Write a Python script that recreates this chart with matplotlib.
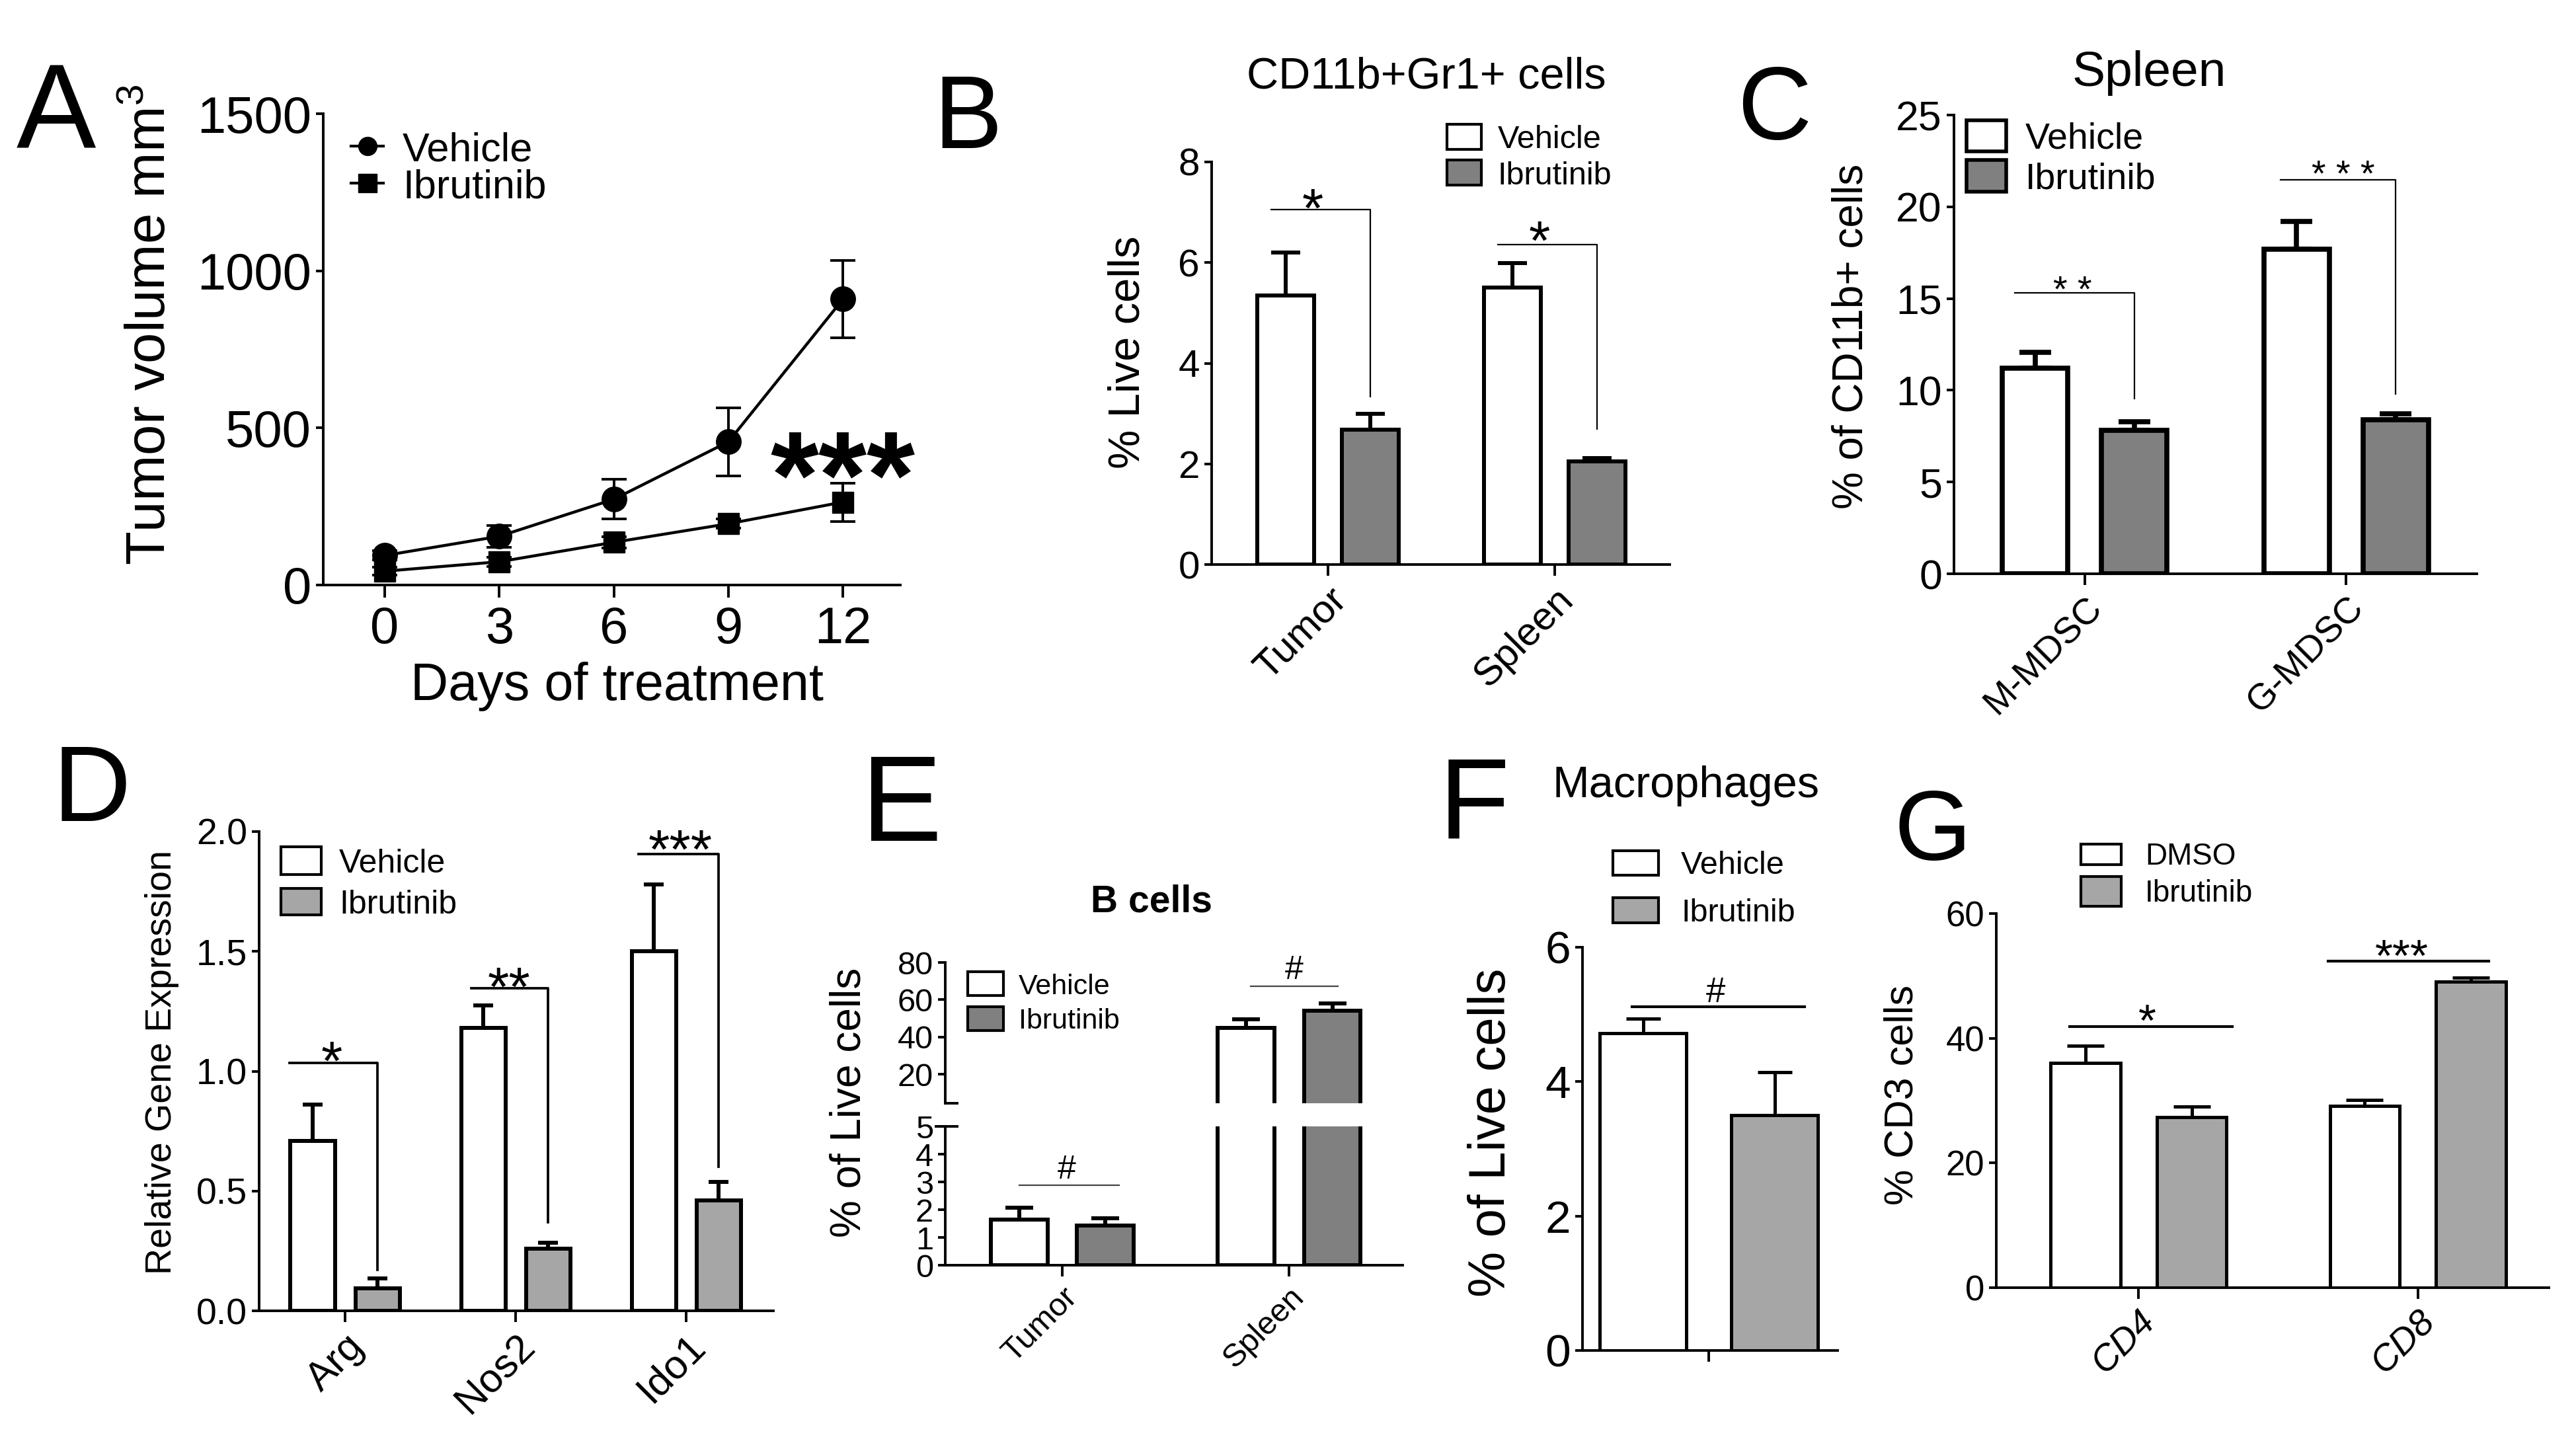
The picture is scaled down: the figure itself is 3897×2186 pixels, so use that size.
import numpy as np
import matplotlib.pyplot as plt
from matplotlib.patches import Rectangle
from matplotlib.lines import Line2D

plt.rcParams['font.family'] = ['Liberation Sans', 'DejaVu Sans']
plt.rcParams['mathtext.fontset'] = 'custom'
plt.rcParams['mathtext.rm'] = 'Liberation Sans'

# A - tumour volume over time
days = [0, 3, 6, 9, 12]
veh_volume = [94, 155, 273, 456, 910]
veh_volume_sem = [15, 35, 63, 108, 123]
ibr_volume = [44, 74, 136, 195, 264]
ibr_volume_sem = [12, 15, 18, 15, 61]

# B - CD11b+Gr1+ cells
b_groups = ['Tumor', 'Spleen']
b_veh = [5.35, 5.51]
b_veh_sem = [0.85, 0.48]
b_ibr = [2.68, 2.05]
b_ibr_sem = [0.32, 0.06]

# C - spleen MDSC
c_groups = ['M-MDSC', 'G-MDSC']
c_veh = [11.2, 17.7]
c_veh_sem = [0.88, 1.49]
c_ibr = [7.8, 8.4]
c_ibr_sem = [0.5, 0.3]

# D - gene expression
d_genes = ['Arg', 'Nos2', 'Ido1']
d_veh = [0.71, 1.18, 1.50]
d_veh_sem = [0.15, 0.095, 0.28]
d_ibr = [0.095, 0.26, 0.46]
d_ibr_sem = [0.04, 0.023, 0.077]

# E - B cells
e_groups = ['Tumor', 'Spleen']
e_veh = [1.64, 45.0]
e_veh_sem = [0.44, 4.4]
e_ibr = [1.44, 54.0]
e_ibr_sem = [0.25, 3.9]

# F - macrophages
f_veh = [4.72]
f_veh_sem = [0.22]
f_ibr = [3.50]
f_ibr_sem = [0.64]

# G - T cells
g_groups = ['CD4', 'CD8']
g_dmso = [36.0, 29.1]
g_dmso_sem = [2.8, 1.0]
g_ibr = [27.4, 49.1]
g_ibr_sem = [1.6, 0.6]

W, H = 3898, 2186
DARK = '#808080'
LIGHT = '#a6a6a6'
fig = plt.figure(figsize=(W / 100, H / 100), dpi=100)


def px_axes(l, t, r, b):
    return fig.add_axes([l / W, 1 - b / H, (r - l) / W, (b - t) / H])


def txt(x, y, s, **kw):
    return fig.text(x / W, 1 - y / H, s, **kw)


def style(ax, fs, lw=2.8, xlen=12, ylen=8):
    ax.patch.set_visible(False)
    for side in ['top', 'right']:
        ax.spines[side].set_visible(False)
    for side in ['left', 'bottom']:
        ax.spines[side].set_linewidth(lw)
    ax.tick_params(axis='y', length=ylen, width=lw, labelsize=fs, pad=5)
    ax.tick_params(axis='x', length=xlen, width=lw, labelsize=fs, pad=6)


def bars(ax, x, vals, sem, fc, width, lw, cap):
    ax.bar(x, vals, width, color=fc, edgecolor='black', linewidth=lw, zorder=3)
    ax.errorbar(x, vals, yerr=[np.zeros(len(vals)), sem], fmt='none', ecolor='black',
                elinewidth=lw, capsize=cap, capthick=lw, zorder=2)


def bracket(ax, x0, x1, y, drop=None, lw=1.6, color='black'):
    xs, ys = [x0, x1], [y, y]
    if drop is not None:
        xs.append(x1)
        ys.append(drop)
    ax.plot(xs, ys, color=color, lw=lw, clip_on=False, zorder=4)


def mark(ax, x, y, s, fs, lift, **kw):
    # lift = height of the glyph centre above the baseline, in em
    ax.annotate(s, (x, y), xytext=(0, -lift * fs), textcoords='offset points',
                ha='center', va='baseline', fontsize=fs, annotation_clip=False, **kw)


def legend_boxes(x0, bw, text_x, fs, rows, lw=3):
    for yc, bh, fc, label in rows:
        fig.add_artist(Rectangle((x0 / W, 1 - (yc + bh / 2) / H), bw / W, bh / H,
                                 transform=fig.transFigure, facecolor=fc,
                                 edgecolor='black', linewidth=lw))
        txt(text_x, yc + 0.5 * fs, label, fontsize=fs, va='baseline')


def letter(x, y, s, fs):
    txt(x, y, s, fontsize=fs, va='baseline')


def ylab(x, y, s, fs):
    txt(x, y, s, fontsize=fs, rotation=90, ha='center', va='center')


def rot_ticks(ax, pos, labels, fs, **kw):
    ax.set_xticks(pos)
    ax.set_xticklabels(labels, rotation=45, ha='right', rotation_mode='anchor',
                       fontsize=fs, **kw)


# ---------------- A ----------------
axA = px_axes(489, 172, 1362, 885)
for vals, sem, mk, ms in [(veh_volume, veh_volume_sem, 'o', 27),
                          (ibr_volume, ibr_volume_sem, 's', 23)]:
    eb = axA.errorbar(days, vals, yerr=sem, color='black', lw=3.2, marker=mk, ms=ms,
                      capsize=14, elinewidth=2.8, capthick=2.8, zorder=3)
    eb[0].set_clip_on(False)
    for a in list(eb[1]) + list(eb[2]):
        a.set_clip_on(False)
axA.set_xlim(-1.61, 13.5)
axA.set_ylim(0, 1500)
axA.set_xticks(days)
axA.set_yticks([0, 500, 1000, 1500])
style(axA, 56, xlen=14)
axA.tick_params(axis='x', pad=8)
mark(axA, 12, 446, '***', 135, 0.58, fontweight='bold')
for yc, mk, ms, lab in [(221, 'o', 20, 'Vehicle'), (277, 's', 20, 'Ibrutinib')]:
    fig.add_artist(Line2D([531 / W, 580 / W], [1 - yc / H] * 2, color='black', lw=3))
    fig.add_artist(Line2D([556 / W], [1 - yc / H], marker=mk, ms=ms, color='black'))
    txt(609, yc + 22, lab, fontsize=44, va='baseline')
ylab(228, 491, r'Tumor volume mm$^{\mathrm{3}}$', 60)
txt(933, 1059, 'Days of treatment', fontsize=57, ha='center', va='baseline')
letter(25, 225, 'A', 130)

# ---------------- B ----------------
axB = px_axes(1833, 245, 2526, 854)
xb = np.arange(len(b_groups))
bars(axB, xb - 0.187, b_veh, b_veh_sem, 'white', 0.25, 4.3, 15.5)
bars(axB, xb + 0.187, b_ibr, b_ibr_sem, DARK, 0.25, 4.3, 15.5)
axB.set_xlim(-0.513, 1.507)
axB.set_ylim(0, 8)
axB.set_yticks(range(0, 9, 2))
style(axB, 42)
rot_ticks(axB, xb, b_groups, 43)
for g, y, drop, s, ty in [(0, 7.05, 3.34, '*', 7.34), (1, 6.36, 2.69, '*', 6.70)]:
    bracket(axB, g - 0.25, g + 0.187, y, drop)
    mark(axB, g - 0.068, ty, s, 60, 0.58)
legend_boxes(2189, 52, 2266, 35, [(207, 38, 'white', 'Vehicle'), (261, 38, DARK, 'Ibrutinib')])
txt(2158, 133, 'CD11b+Gr1+ cells', fontsize=48, ha='center', va='baseline')
ylab(1707, 533, '% Live cells', 48)
letter(1412, 224, 'B', 112)

# ---------------- C ----------------
axC = px_axes(2956, 174, 3747, 868)
xc = np.arange(len(c_groups))
bars(axC, xc - 0.19, c_veh, c_veh_sem, 'white', 0.25, 5.5, 17)
bars(axC, xc + 0.19, c_ibr, c_ibr_sem, DARK, 0.25, 5.5, 17)
axC.set_xlim(-0.5, 1.5)
axC.set_ylim(0, 25)
axC.set_yticks(range(0, 26, 5))
style(axC, 45)
rot_ticks(axC, xc, c_groups, 40)
for g, x0, y, drop, s, tx, ty in [(0, -0.268, 15.3, 9.55, '* *', -0.046, 16.0),
                                  (1, -0.25, 21.46, 9.8, '* * *', -0.01, 22.3)]:
    bracket(axC, g + x0, g + 0.19, y, drop)
    mark(axC, g + tx, ty, s, 40, 0.58)
legend_boxes(2975, 60, 3064, 40, [(205, 47, 'white', 'Vehicle'), (266, 48, DARK, 'Ibrutinib')], lw=4)
txt(3251, 130, 'Spleen', fontsize=54, ha='center', va='baseline')
ylab(2801, 509, '% of CD11b+ cells', 46)
letter(2628, 210, 'C', 112)

# ---------------- D ----------------
axD = px_axes(392, 1258, 1170, 1983)
xd = np.arange(len(d_genes))
bars(axD, xd - 0.19, d_veh, d_veh_sem, 'white', 0.26, 4.3, 11)
bars(axD, xd + 0.19, d_ibr, d_ibr_sem, LIGHT, 0.26, 4.3, 11)
axD.set_xlim(-0.504, 2.51)
axD.set_ylim(0, 2)
axD.set_yticks([0, 0.5, 1, 1.5, 2])
axD.set_yticklabels(['0.0', '0.5', '1.0', '1.5', '2.0'])
style(axD, 40)
rot_ticks(axD, xd, d_genes, 44)
for g, x0, y, drop, s, tx, ty in [(0, -0.326, 1.035, 0.17, '*', -0.08, 1.098),
                                  (1, -0.26, 1.347, 0.369, '**', -0.04, 1.407),
                                  (2, -0.28, 1.905, 0.602, '***', -0.035, 1.98)]:
    bracket(axD, g + x0, g + 0.19, y, drop, lw=2.7)
    mark(axD, g + tx, ty, s, 60, 0.58)
legend_boxes(425, 61, 513, 36, [(1302, 42, 'white', 'Vehicle'), (1364, 40, LIGHT, 'Ibrutinib')])
ylab(245, 1607, 'Relative Gene Expression', 40)
letter(80, 1242, 'D', 118)

# ---------------- E (broken axis) ----------------
axEu = px_axes(1430, 1456, 2122, 1669)
axEl = px_axes(1430, 1704, 2122, 1914)
xe = np.arange(len(e_groups))
for ax in (axEu, axEl):
    bars(ax, xe - 0.19, e_veh, e_veh_sem, 'white', 0.25, 4.3, 15)
    bars(ax, xe + 0.19, e_ibr, e_ibr_sem, DARK, 0.25, 4.3, 15)
    ax.set_xlim(-0.516, 1.50)
    style(ax, 35)
axEu.set_ylim(4.4, 80)
axEu.set_yticks([20, 40, 60, 80])
axEu.spines['bottom'].set_visible(False)
axEu.set_xticks([])
axEl.set_ylim(0, 5)
axEl.set_yticks(range(6))
rot_ticks(axEl, xe, e_groups, 35)
axEu.plot([0, 0.026], [0, 0], transform=axEu.transAxes, color='black', lw=2.8, clip_on=False)
axEl.plot([-0.02, 0.026], [1, 1], transform=axEl.transAxes, color='black', lw=2.8, clip_on=False)
bracket(axEl, -0.19, 0.25, 2.87, None, lw=1.6, color='#444444')
mark(axEl, 0.02, 3.53, '#', 36, 0.35)
bracket(axEu, 1 - 0.17, 1 + 0.215, 67.2, None, lw=1.6, color='#444444')
mark(axEu, 1.02, 77.5, '#', 36, 0.35)
legend_boxes(1464, 54, 1541, 31, [(1488, 36, 'white', 'Vehicle'), (1541, 36, DARK, 'Ibrutinib')])
txt(1742, 1380, 'B cells', fontsize=41, fontweight='bold', ha='center', va='baseline')
ylab(1285, 1668, '% of Live cells', 46)
letter(1303, 1272, 'E', 132)

# ---------------- F ----------------
axF = px_axes(2394, 1433, 2780, 2043)
bars(axF, [-0.195], f_veh, f_veh_sem, 'white', 0.257, 3.6, 19)
bars(axF, [0.195], f_ibr, f_ibr_sem, LIGHT, 0.257, 3.6, 19)
axF.set_xlim(-0.375, 0.382)
axF.set_ylim(0, 6)
axF.set_yticks([0, 2, 4, 6])
style(axF, 50)
axF.set_xticks([0])
axF.set_xticklabels([''])
bracket(axF, -0.227, 0.284, 5.11, None, lw=3)
mark(axF, 0.02, 5.37, '#', 38, 0.35)
legend_boxes(2440, 69, 2543, 35, [(1305, 37, 'white', 'Vehicle'), (1377, 38, LIGHT, 'Ibrutinib')])
txt(2348, 1206, 'Macrophages', fontsize=48, va='baseline')
ylab(2256, 1713, '% of Live cells', 56)
letter(2177, 1269, 'F', 126)

# ---------------- G ----------------
axG = px_axes(3020, 1382, 3856, 1948)
xg = np.arange(len(g_groups))
bars(axG, xg - 0.19, g_dmso, g_dmso_sem, 'white', 0.25, 3.6, 20)
bars(axG, xg + 0.19, g_ibr, g_ibr_sem, LIGHT, 0.25, 3.6, 20)
axG.set_xlim(-0.51, 1.47)
axG.set_ylim(0, 60)
axG.set_yticks([0, 20, 40, 60])
style(axG, 38)
rot_ticks(axG, xg, g_groups, 40, fontstyle='italic')
bracket(axG, -0.246, 0.336, 41.9, None, lw=3)
mark(axG, 0.03, 44.7, '*', 50, 0.58)
bracket(axG, 1 - 0.322, 1 + 0.254, 52.4, None, lw=3)
mark(axG, 1 - 0.057, 55.1, '***', 50, 0.58)
legend_boxes(3148, 61, 3245, 33, [(1292, 31, 'white', 'DMSO'), (1348, 45, LIGHT, 'Ibrutinib')])
ylab(2878, 1656, '% CD3 cells', 44)
letter(2866, 1301, 'G', 108)

fig.savefig('out.png', dpi=100)
